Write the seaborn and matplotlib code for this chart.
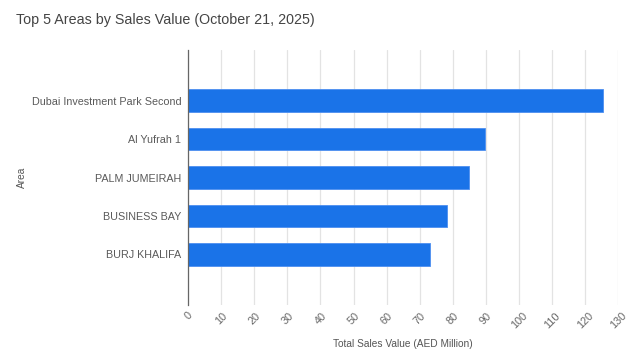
import matplotlib.pyplot as plt
import pandas as pd
import seaborn as sns

areas = [
    "Dubai Investment Park Second",
    "Al Yufrah 1",
    "PALM JUMEIRAH",
    "BUSINESS BAY",
    "BURJ KHALIFA",
]
sales_value = [125.3, 89.7, 84.9, 78.2, 73.1]
x_ticks = list(range(0, 140, 10))

df = pd.DataFrame({"Area": areas, "Sales": sales_value})

sns.set_theme(style="white")
plt.rcParams["font.family"] = ["Liberation Sans", "DejaVu Sans"]

fig = plt.figure(figsize=(6.4, 3.63), dpi=100)
ax = fig.add_axes([0.294, 0.160, 0.672, 0.702])

sns.barplot(data=df, x="Sales", y="Area", orient="h", color="#1a73e8",
            saturation=1, width=0.59, edgecolor="#4d8ff0", linewidth=0.6, ax=ax)

ax.set_xlim(0, 130)
ax.set_ylim(4 + 1.32, -1.32)
ax.set_xticks(x_ticks)
ax.set_xticklabels([str(t) for t in x_ticks], rotation=45, ha="center", va="top",
                   fontsize=7.8, color="#666666")
ax.tick_params(axis="y", labelsize=7.75, colors="#5a5a5a", length=0, pad=5)
ax.tick_params(axis="x", length=0, pad=4)
ax.xaxis.grid(True, color="#e3e3e3", lw=0.9)
ax.set_axisbelow(True)
for side in ["top", "right", "bottom"]:
    ax.spines[side].set_visible(False)
ax.spines["left"].set_color("#666666")
ax.spines["left"].set_linewidth(0.9)

ax.set_xlabel("Total Sales Value (AED Million)", fontsize=7.3, color="#555555", labelpad=6)
ax.set_ylabel("Area", fontsize=7.3, color="#555555")
ax.yaxis.set_label_coords(-0.375, 0.5)

fig.text(16 / 640, 1 - 20 / 363, "Top 5 Areas by Sales Value (October 21, 2025)",
         fontsize=10.3, color="#444444", va="center", ha="left")

fig.savefig("out.png", dpi=100)
